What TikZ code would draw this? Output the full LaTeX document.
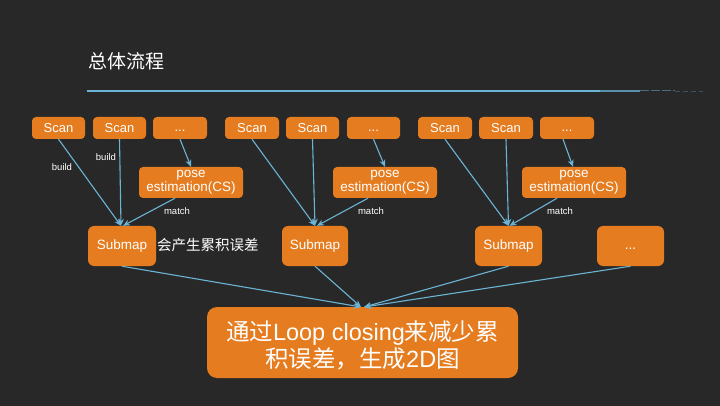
\documentclass[tikz,border=0pt]{standalone}
\usepackage{fontspec}
\setmainfont{Liberation Sans}
\newfontfamily\cjk{Noto Sans CJK SC}
\usetikzlibrary{arrows.meta}
\definecolor{board}{RGB}{40,40,40}
\definecolor{boxor}{RGB}{229,124,31}
\definecolor{lnblue}{RGB}{108,180,214}
\tikzset{
  box/.style={fill=boxor, rounded corners=4pt, inner sep=0pt, text=white, align=center, font=\fontsize{13}{15}\selectfont},
  conn/.style={draw=lnblue, line width=1.1pt, -{Stealth[length=7pt,width=6pt]}},
  lbl/.style={text=white, font=\fontsize{9.5}{11}\selectfont, inner sep=0pt},
}
\begin{document}
\begin{tikzpicture}[x=1pt,y=-1pt]
\useasboundingbox (0,0) rectangle (720,406);
\fill[board] (0,0) rectangle (720,406);
% title
\node[text=white, anchor=west, inner sep=0pt, font=\cjk\fontsize{19}{21}\selectfont] (title) at (88,61) {总体流程};
\coordinate (ruleA) at (87,91);
\coordinate (ruleB) at (600,91);
\coordinate (ruleC) at (640,91);
\coordinate (ruleD) at (675,91);
\coordinate (ruleE) at (703,91);
\draw[lnblue, line width=1.3pt] (ruleA) -- (ruleB);
\draw[lnblue, line width=1.1pt, opacity=0.75] (ruleB) -- (ruleC);
\draw[lnblue, line width=1pt, opacity=0.5, dash pattern=on 9pt off 2pt] (ruleC) -- (ruleD);
\draw[lnblue, line width=0.9pt, opacity=0.3, dash pattern=on 5pt off 3pt] (ruleD) -- (ruleE);
% group 1
\node[box, minimum width=53pt, minimum height=22pt] (s11) at (58.5,128) {Scan};
\node[box, minimum width=53pt, minimum height=22pt] (s12) at (119.5,128) {Scan};
\node[box, minimum width=54pt, minimum height=22pt] (s13) at (180,128) {\vphantom{Sp}...};
\node[box, minimum width=104pt, minimum height=31pt, font=\fontsize{13.5}{15}\selectfont] (p1) at (191,182.5) {pose\\[-1pt]estimation(CS)};
\node[box, rounded corners=6pt, minimum width=68pt, minimum height=40pt, font=\fontsize{13.5}{15}\selectfont] (m1) at (122,246) {Submap};
\node[text=white, anchor=west, inner sep=0pt, font=\cjk\fontsize{14.5}{16}\selectfont] (err) at (157,245) {会产生累积误差};
% group 2
\node[box, minimum width=54pt, minimum height=22pt] (s21) at (252,128) {Scan};
\node[box, minimum width=53pt, minimum height=22pt] (s22) at (312.5,128) {Scan};
\node[box, minimum width=53pt, minimum height=22pt] (s23) at (373.5,128) {\vphantom{Sp}...};
\node[box, minimum width=104pt, minimum height=31pt, font=\fontsize{13.5}{15}\selectfont] (p2) at (385,182.5) {pose\\[-1pt]estimation(CS)};
\node[box, rounded corners=6pt, minimum width=66pt, minimum height=40pt, font=\fontsize{13.5}{15}\selectfont] (m2) at (315,246) {Submap};
% group 3
\node[box, minimum width=54pt, minimum height=22pt] (s31) at (445,128) {Scan};
\node[box, minimum width=54pt, minimum height=22pt] (s32) at (506,128) {Scan};
\node[box, minimum width=54pt, minimum height=22pt] (s33) at (567,128) {\vphantom{Sp}...};
\node[box, minimum width=104pt, minimum height=31pt, font=\fontsize{13.5}{15}\selectfont] (p3) at (574,182.5) {pose\\[-1pt]estimation(CS)};
\node[box, rounded corners=6pt, minimum width=67pt, minimum height=40pt, font=\fontsize{13.5}{15}\selectfont] (m3) at (508.5,246) {Submap};
\node[box, rounded corners=6pt, minimum width=67pt, minimum height=40pt, font=\fontsize{13.5}{15}\selectfont] (m4) at (630.5,246) {\vphantom{Sp}...};
% big box
\node[box, rounded corners=10pt, minimum width=311pt, minimum height=71pt] (loop) at (362.5,342.5) {};
\node[text=white, align=center, inner sep=0pt, font=\fontsize{23.5}{27}\selectfont] (looptext) at (362.5,345) {{\cjk 通过}Loop closing{\cjk 来减少累}\\{\cjk 积误差，生成}2D{\cjk 图}};
% connectors group 1
\draw[conn] (s11.south) -- ([xshift=-1pt]m1.north);
\draw[conn] (s12.south) -- ([xshift=-1pt]m1.north);
\draw[conn] (s13.south) -- (p1.north);
\draw[conn] ([xshift=-16pt]p1.south) -- ([xshift=1pt]m1.north);
\node[lbl] (b1) at (62,167) {build};
\node[lbl] (b2) at (106,157) {build};
\node[lbl] (mt1) at (177,211) {match};
% connectors group 2
\draw[conn] (s21.south) -- (m2.north);
\draw[conn] (s22.south) -- (m2.north);
\draw[conn] (s23.south) -- (p2.north);
\draw[conn] ([xshift=-17pt]p2.south) -- ([xshift=2pt]m2.north);
\node[lbl] (mt2) at (371,211) {match};
% connectors group 3
\draw[conn] (s31.south) -- (m3.north);
\draw[conn] (s32.south) -- (m3.north);
\draw[conn] ([xshift=-4pt]s33.south) -- ([xshift=-1pt]p3.north);
\draw[conn] ([xshift=-17pt]p3.south) -- ([xshift=1pt]m3.north);
\node[lbl] (mt3) at (560,211) {match};
% to big box
\coordinate (tipL) at (361,307);
\coordinate (tipR) at (364,307);
\draw[conn] (m1.south) -- (tipL);
\draw[conn] (m2.south) -- (tipL);
\draw[conn] (m3.south) -- (tipR);
\draw[conn] (m4.south) -- (tipR);
\end{tikzpicture}
\end{document}
